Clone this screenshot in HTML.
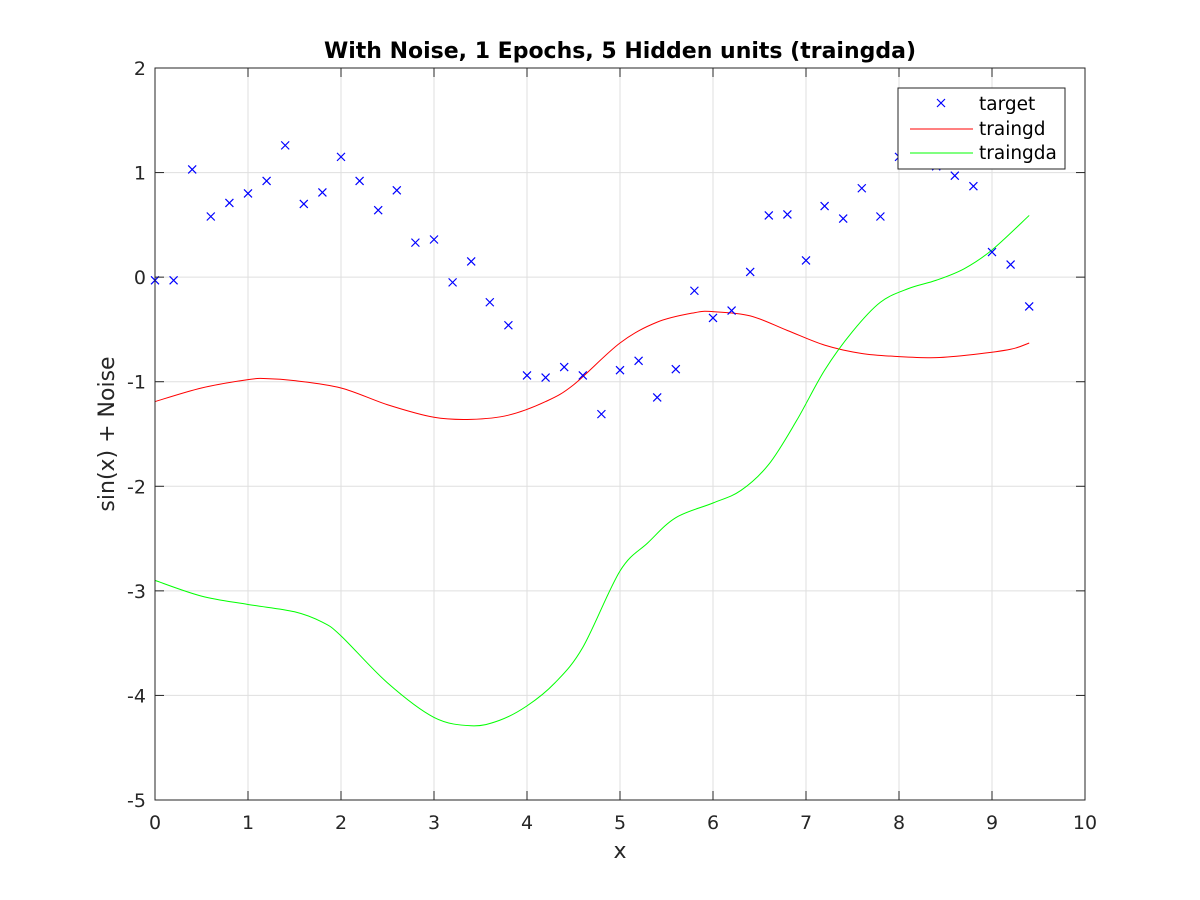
<!DOCTYPE html>
<html><head><meta charset="utf-8"><style>
body{margin:0;background:#fff;}
svg{display:block;font-family:"DejaVu Sans","Liberation Sans",sans-serif;}
</style></head><body>
<svg id="chart" width="1200" height="900" viewBox="0 0 1200 900">
<rect width="1200" height="900" fill="#fff"/>
<g id="grid"></g>
<g id="plot"></g>
<rect x="155" y="68" width="930" height="732" fill="none" stroke="#262626" stroke-width="1"/>
<g id="ticks"></g>
<text x="620" y="58" text-anchor="middle" font-size="22" font-weight="bold" fill="#000">With Noise, 1 Epochs, 5 Hidden units (traingda)</text>
<text x="620" y="858" text-anchor="middle" font-size="22" fill="#262626">x</text>
<text transform="translate(114,434) rotate(-90)" text-anchor="middle" font-size="22" fill="#262626">sin(x) + Noise</text>
<g id="legend">
<rect x="898" y="88" width="167" height="81" fill="#fff" stroke="#262626" stroke-width="1"/>
<g>
<path d="M937 99l8 8M945 99l-8 8" stroke="#00f" stroke-width="1.2"/>
<text x="979" y="110" font-size="18.5" fill="#000">target</text></g>
<g>
<line x1="910" y1="129" x2="973" y2="129" stroke="#f00"/>
<text x="979" y="135" font-size="18.5" fill="#000">traingd</text></g>
<g>
<line x1="910" y1="153" x2="973" y2="153" stroke="#0f0"/>
<text x="979" y="159" font-size="18.5" fill="#000">traingda</text></g>
</g>
</svg>
<script>
const targetX=[0,0.2,0.4,0.6,0.8,1.0,1.2,1.4,1.6,1.8,2.0,2.2,2.4,2.6,2.8,3.0,3.2,3.4,3.6,3.8,4.0,4.2,4.4,4.6,4.8,5.0,5.2,5.4,5.6,5.8,6.0,6.2,6.4,6.6,6.8,7.0,7.2,7.4,7.6,7.8,8.0,8.2,8.4,8.6,8.8,9.0,9.2,9.4];
const targetY=[-0.03,-0.03,1.03,0.58,0.71,0.80,0.92,1.26,0.70,0.81,1.15,0.92,0.64,0.83,0.33,0.36,-0.05,0.15,-0.24,-0.46,-0.94,-0.96,-0.86,-0.94,-1.31,-0.89,-0.80,-1.15,-0.88,-0.13,-0.39,-0.32,0.05,0.59,0.60,0.16,0.68,0.56,0.85,0.58,1.15,1.2,1.06,0.97,0.87,0.24,0.12,-0.28];
const gdX=[0,0.5,1,1.2,1.5,2,2.5,3,3.4,3.8,4.2,4.5,5,5.4,5.8,6.0,6.4,6.8,7.2,7.6,8,8.4,8.8,9.2,9.4];
const gdY=[-1.19,-1.06,-0.98,-0.97,-0.99,-1.06,-1.22,-1.34,-1.36,-1.32,-1.19,-1.03,-0.63,-0.43,-0.34,-0.33,-0.37,-0.51,-0.65,-0.73,-0.76,-0.77,-0.74,-0.69,-0.63];
const gdaX=[0,0.5,1,1.5,1.8,2,2.5,3,3.4,3.7,4,4.3,4.6,5,5.3,5.6,6,6.3,6.6,6.9,7.2,7.5,7.8,8.1,8.4,8.7,9,9.4];
const gdaY=[-2.90,-3.05,-3.13,-3.20,-3.30,-3.43,-3.88,-4.21,-4.29,-4.24,-4.10,-3.88,-3.54,-2.81,-2.54,-2.30,-2.16,-2.04,-1.79,-1.37,-0.89,-0.52,-0.24,-0.11,-0.03,0.08,0.26,0.59];
const xTicks=[0,1,2,3,4,5,6,7,8,9,10];
const yTicks=[2,1,0,-1,-2,-3,-4,-5];
const NS='http://www.w3.org/2000/svg';
const sx=v=>155+v*93;
const sy=v=>68+(2-v)*(732/7);
const grid=document.getElementById('grid'),ticks=document.getElementById('ticks'),plot=document.getElementById('plot');
function mk(t,a,p){const e=document.createElementNS(NS,t);for(const k in a)e.setAttribute(k,a[k]);p.appendChild(e);return e;}
xTicks.forEach(v=>{
 const g=mk('line',{x1:sx(v),x2:sx(v),y1:68,y2:800,stroke:'#dfdfdf','stroke-width':1},grid);
 
 
 mk('line',{x1:sx(v),x2:sx(v),y1:800,y2:791,stroke:'#262626'},ticks);
 mk('line',{x1:sx(v),x2:sx(v),y1:68,y2:77,stroke:'#262626'},ticks);
 const t=mk('text',{x:sx(v),y:829,'text-anchor':'middle','font-size':19,fill:'#262626'},ticks);
 t.textContent=v;
 
 
});
yTicks.forEach(v=>{
 const g=mk('line',{x1:155,x2:1085,y1:sy(v),y2:sy(v),stroke:'#dfdfdf','stroke-width':1},grid);
 
 
 mk('line',{x1:155,x2:164,y1:sy(v),y2:sy(v),stroke:'#262626'},ticks);
 mk('line',{x1:1085,x2:1076,y1:sy(v),y2:sy(v),stroke:'#262626'},ticks);
 const t=mk('text',{x:146,y:sy(v)+7,'text-anchor':'end','font-size':19,fill:'#262626'},ticks);
 t.textContent=v;
 
 
});
function line(xs,ys,c,name){
 const P=xs.map((x,i)=>[sx(x),sy(ys[i])]);
 let d='M'+P[0][0]+' '+P[0][1];
 for(let i=0;i<P.length-1;i++){
  const p0=P[Math.max(0,i-1)],p1=P[i],p2=P[i+1],p3=P[Math.min(P.length-1,i+2)];
  const c1=[p1[0]+(p2[0]-p0[0])/6,p1[1]+(p2[1]-p0[1])/6];
  const c2=[p2[0]-(p3[0]-p1[0])/6,p2[1]-(p3[1]-p1[1])/6];
  d+=` C${c1[0]} ${c1[1]} ${c2[0]} ${c2[1]} ${p2[0]} ${p2[1]}`;
 }
 const p=mk('path',{d:d,fill:'none',stroke:c,'stroke-width':1},plot);
 
 
}
line(gdX,gdY,'#f00','traingd-line');
line(gdaX,gdaY,'#0f0','traingda-line');
targetX.forEach((x,i)=>{
 const cx=sx(x),cy=sy(targetY[i]);
 const m=mk('path',{d:`M${cx-4} ${cy-4}l8 8M${cx+4} ${cy-4}l-8 8`,stroke:'#00f','stroke-width':1.2},plot);
 
 
});
</script>
</body></html>
